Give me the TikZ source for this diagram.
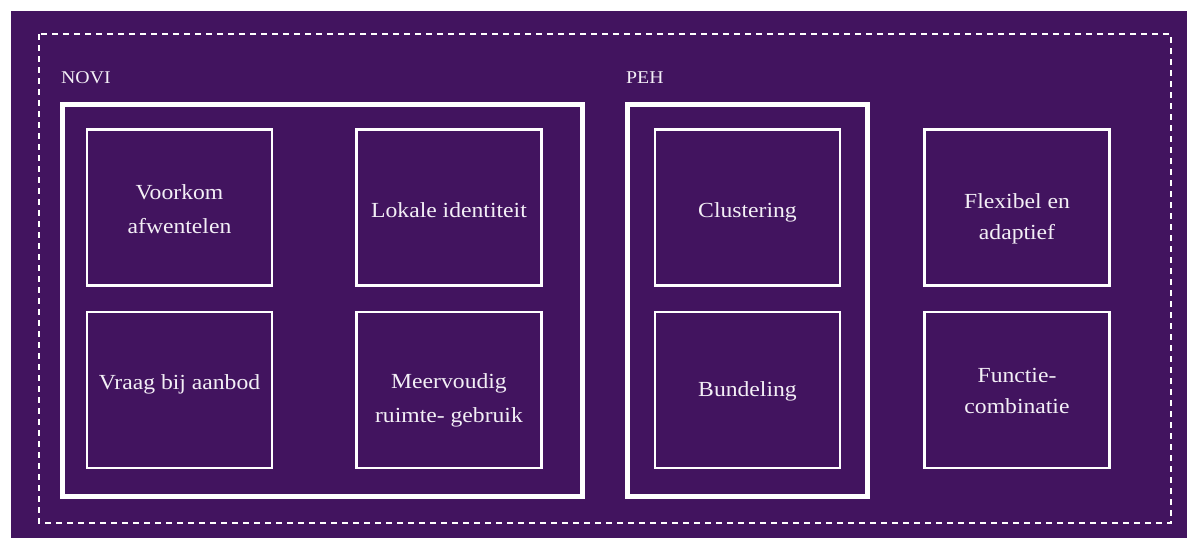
\documentclass[tikz,border=0pt]{standalone}
\usepackage{fontspec}
\setmainfont{Liberation Serif}[FakeStretch=1.1]
\definecolor{rovviolet}{HTML}{42145F}
\definecolor{paletext}{HTML}{F3EFF6}
% stacked lines whose baseline is the first line, with a given line spacing
\newcommand{\stacklines}[2]{\fontsize{21.5}{#1}\selectfont\begin{tabular}[t]{@{}c@{}}#2\end{tabular}}

\begin{document}
\begin{tikzpicture}[x=1pt,y=-1pt,
  groupbox/.style={draw=white,line width=5pt,minimum height=392pt,inner sep=0pt},
  itembox/.style={draw=white,line width=2.6pt,minimum width=185pt,minimum height=156pt,inner sep=0pt},
  caption/.style={text=paletext,inner sep=0pt,anchor=base,font=\fontsize{21.5}{26}\selectfont},
  grouplabel/.style={text=paletext,inner sep=0pt,anchor=base west,font=\fontsize{18}{22}\selectfont}]
\useasboundingbox (0,0) rectangle (1187,538);
\fill[rovviolet] (11,11) rectangle (1187,538);

% dashed frame around everything
\draw[white,line width=2pt,dash pattern=on 6pt off 5pt] (39,34) rectangle (1171,523);

% group frames
\node[groupbox,minimum width=520pt] (novi) at (322.5,300) {};
\node[groupbox,minimum width=240pt] (peh) at (747.5,300) {};
\node[grouplabel] (novi-label) at (61,83.5) {NOVI};
\node[grouplabel] (peh-label) at (626,83.5) {PEH};

% principle boxes
\node[itembox] (voorkom) at (179.5,207.5) {};
\node[itembox] (lokaal) at (449,207.5) {};
\node[itembox] (cluster) at (747.5,207.5) {};
\node[itembox] (flexibel) at (1017,207.5) {};
\node[itembox] (vraag) at (179.5,390) {};
\node[itembox] (meervoud) at (449,390) {};
\node[itembox] (bundel) at (747.5,390) {};
\node[itembox] (functie) at (1017,390) {};

% box texts
\node[caption] (voorkom-t) at (voorkom.center |- 0,199) {\stacklines{34}{Voorkom\\afwentelen}};
\node[caption] (lokaal-t) at (lokaal.center |- 0,217) {Lokale identiteit};
\node[caption] (cluster-t) at (cluster.center |- 0,217) {Clustering};
\node[caption] (flexibel-t) at (flexibel.center |- 0,208) {\stacklines{31}{Flexibel en\\adaptief}};
\node[caption] (vraag-t) at (vraag.center |- 0,389) {Vraag bij aanbod};
\node[caption] (meervoud-t) at (meervoud.center |- 0,388) {\stacklines{34}{Meervoudig\\ruimte- gebruik}};
\node[caption] (bundel-t) at (bundel.center |- 0,396) {Bundeling};
\node[caption] (functie-t) at (functie.center |- 0,382) {\stacklines{31}{Functie-\\combinatie}};
\end{tikzpicture}
\end{document}
